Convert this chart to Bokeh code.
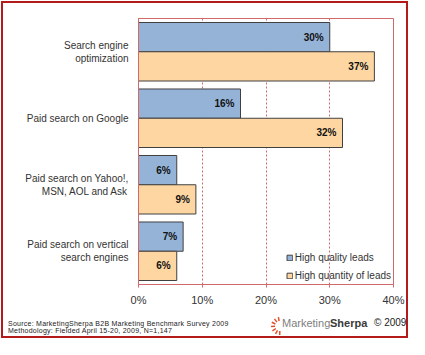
import math
from bokeh.plotting import figure
from bokeh.layouts import column
from bokeh.models import (ColumnDataSource, FactorRange, Range1d, FixedTicker,
                          PrintfTickFormatter, Legend, LegendItem, Div)
from bokeh.transform import dodge
from bokeh.embed import file_html
from bokeh.resources import INLINE
from bokeh.core.properties import value

categories = ["Search engine\noptimization", "Paid search on Google",
              "Paid search on Yahoo!,\nMSN, AOL and Ask",
              "Paid search on vertical\nsearch engines"]
quality = [30, 16, 6, 7]
quantity = [37, 32, 9, 6]
series_names = ["High quality leads", "High quantity of leads"]
x_ticks = [0, 10, 20, 30, 40]
source_lines = ["Source: MarketingSherpa B2B Marketing Benchmark Survey 2009",
                "Methodology: Fielded  April 15-20, 2009, N=1,147"]

FONT = "Liberation Sans"
BLUE = "#95b3d7"
ORANGE = "#fdd6a2"
RED = "#d06a6a"
W, H_MAIN, H_FOOT = 409, 313, 26

src = ColumnDataSource(dict(
    cat=categories, quality=quality, quantity=quantity,
    qlab=[f"{v}%" for v in quality], nlab=[f"{v}%" for v in quantity]))

p = figure(width=W, height=H_MAIN, output_backend="svg", toolbar_location=None,
           y_range=FactorRange(factors=categories[::-1], range_padding=0, factor_padding=0),
           x_range=Range1d(0, 40),
           min_border_left=138, min_border_right=16, min_border_top=18, min_border_bottom=29)
p.border_fill_color = None

r1 = p.hbar(y=dodge("cat", 0.22, range=p.y_range), right="quality", left=0, height=0.44,
            source=src, fill_color=BLUE, line_color="#404040", line_width=1)
r2 = p.hbar(y=dodge("cat", -0.22, range=p.y_range), right="quantity", left=0, height=0.44,
            source=src, fill_color=ORANGE, line_color="#404040", line_width=1)

p.text(x="quality", y=dodge("cat", 0.22, range=p.y_range), text="qlab", source=src,
       x_offset=-6, text_align="right", text_baseline="middle",
       text_font=value(FONT), text_font_size="10px", text_font_style="bold", text_color="#111111")
p.text(x="quantity", y=dodge("cat", -0.22, range=p.y_range), text="nlab", source=src,
       x_offset=-6, text_align="right", text_baseline="middle",
       text_font=value(FONT), text_font_size="10px", text_font_style="bold", text_color="#111111")

# axes
p.xaxis.ticker = FixedTicker(ticks=x_ticks)
p.xaxis.formatter = PrintfTickFormatter(format="%d%%")
p.xaxis.major_label_text_font = FONT
p.xaxis.major_label_text_font_size = "11px"
p.xaxis.major_label_text_color = "#333333"
p.xaxis.axis_line_color = RED
p.xaxis.major_tick_line_color = RED
p.xaxis.major_tick_out = 3
p.xaxis.major_tick_in = 0
p.xaxis.minor_tick_line_color = None
p.xaxis.major_label_standoff = 6

p.yaxis.major_label_text_font = FONT
p.yaxis.major_label_text_font_size = "10px"
p.yaxis.major_label_text_color = "#333333"
p.yaxis.axis_line_color = RED
p.yaxis.major_tick_line_color = None
p.yaxis.major_tick_out = 0
p.yaxis.major_tick_in = 0
p.yaxis.major_label_standoff = 10

p.xgrid.grid_line_color = RED
p.xgrid.grid_line_dash = "2 2"
p.ygrid.grid_line_color = None
p.outline_line_color = RED
p.outline_line_alpha = 1

legend = Legend(items=[LegendItem(label=series_names[0], renderers=[r1]),
                       LegendItem(label=series_names[1], renderers=[r2])],
                location="bottom_right", background_fill_alpha=0, border_line_color=None,
                label_text_font=FONT, label_text_font_size="10px", label_text_color="#333333",
                glyph_width=7, glyph_height=7, label_height=13, spacing=5, padding=3, margin=2,
                label_standoff=2)
p.add_layout(legend)

# footer: source note and logo as HTML text
cx, cy = 280, 13
rays = ""
for a in range(100, 271, 28):
    r = math.radians(a)
    rays += (f'<line x1="{cx + 5 * math.cos(r):.1f}" y1="{cy - 5 * math.sin(r):.1f}" '
             f'x2="{cx + 9 * math.cos(r):.1f}" y2="{cy - 9 * math.sin(r):.1f}" '
             f'stroke="#e0502a" stroke-width="1.5"/>')

def span(left, top, text, size, color, weight="normal", spacing=0):
    return (f'<span style="position:absolute;left:{left}px;top:{top}px;font-size:{size}px;'
            f'line-height:{size}px;color:{color};font-weight:{weight};'
            f'letter-spacing:{spacing}px;white-space:nowrap">{text}</span>')

html = (f'<div style="position:relative;width:{W}px;height:{H_FOOT}px;'
        f'font-family:\'{FONT}\';">'
        f'<svg style="position:absolute;left:0;top:0" width="{W}" height="{H_FOOT}">{rays}</svg>'
        + span(8, 7, source_lines[0], 7, "#222222", spacing=0.25)
        + span(8, 14, source_lines[1], 7, "#222222", spacing=0.25)
        + span(282, 5, "Marketing", 11, "#808080")
        + span(330, 5, "Sherpa", 11, "#3a3a3a", "bold")
        + span(374, 5, "\u00a9 2009", 10, "#222222")
        + '</div>')
foot = Div(text=html, width=W, height=H_FOOT, margin=0)

layout = column(p, foot, spacing=0,
                styles={"box-shadow": "inset 0 0 0 1px #ffffff, inset 0 0 0 3px #b31b1b"})

open("out.html", "w").write(file_html(layout, INLINE))
